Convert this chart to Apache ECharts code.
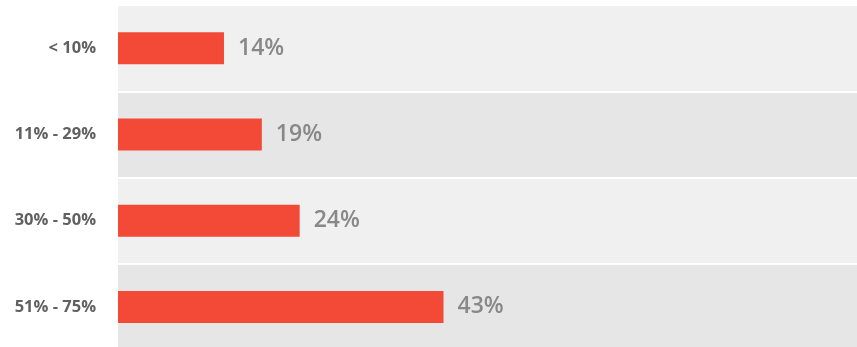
<!DOCTYPE html>
<html>
<head>
<meta charset="utf-8">
<script src="https://cdn.jsdelivr.net/npm/echarts@6/dist/echarts.min.js"></script>
<style>
  html, body { margin: 0; padding: 0; background: #ffffff; }
  #chart { width: 857px; height: 347px; }
</style>
</head>
<body>
<div id="chart"></div>
<script>
// Share of respondents per range
const categories = ['< 10%', '11% - 29%', '30% - 50%', '51% - 75%'];
const shares = [14, 19, 24, 43];

const chart = echarts.init(document.getElementById('chart'), null, { renderer: 'canvas' });

chart.setOption({
  animation: false,
  backgroundColor: '#ffffff',
  grid: {
    left: 118, top: 5, width: 757, height: 345,
    containLabel: false,
    outerBoundsMode: 'none'
  },
  xAxis: {
    type: 'value',
    min: 0,
    max: 100,
    show: false
  },
  yAxis: {
    type: 'category',
    data: categories,
    inverse: true,
    axisLine: { show: false },
    axisTick: { show: false },
    axisLabel: {
      margin: 22,
      color: '#606060',
      fontFamily: 'Open Sans',
      fontWeight: 'bold',
      fontSize: 16.5
    },
    splitLine: { show: true, lineStyle: { color: '#ffffff', width: 2 } },
    splitArea: { show: true, areaStyle: { color: ['#f0f0f0', '#e6e6e6'] } }
  },
  series: [{
    type: 'bar',
    data: shares,
    barWidth: 32,
    itemStyle: { color: '#f24a36' },
    label: {
      show: true,
      position: 'right',
      distance: 14,
      formatter: '{c}%',
      color: '#888888',
      fontFamily: 'Open Sans',
      fontWeight: 600,
      fontSize: 23
    }
  }]
});
</script>
</body>
</html>
